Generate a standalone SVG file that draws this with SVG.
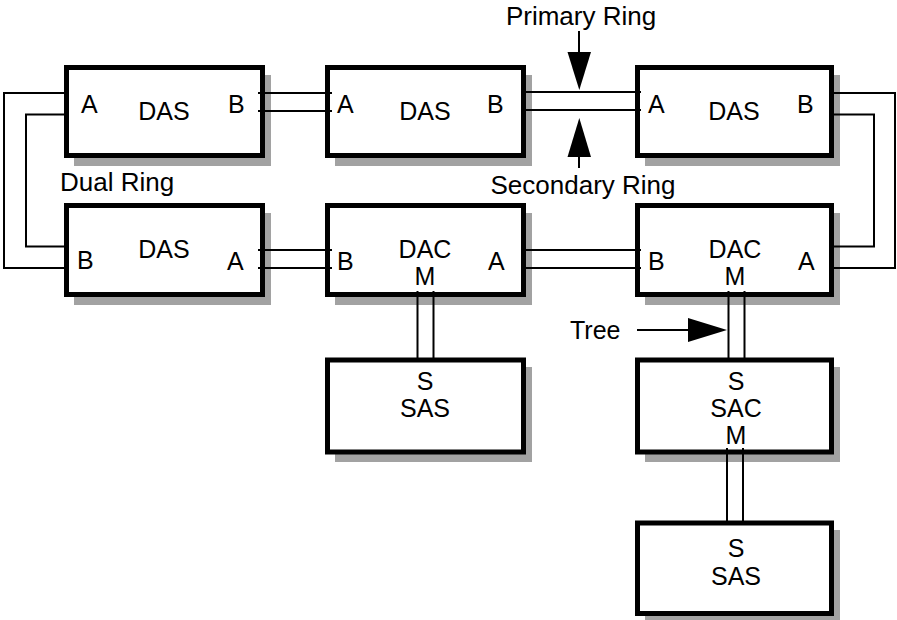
<svg xmlns="http://www.w3.org/2000/svg" width="897" height="620" viewBox="0 0 897 620">
<style>
.shadow{fill:#a2a2a2;stroke:none}
.box{fill:#fff;stroke:#000;stroke-width:5}
text{font-family:"Liberation Sans",Arial,Helvetica,sans-serif;font-size:25px;fill:#000}
.c{text-anchor:middle}
.lbl{font-size:26px}
.wire{fill:none;stroke:#000;stroke-width:2}
.arrow{fill:#000;stroke:none}
</style>
<rect width="897" height="620" fill="#fff"/>

<g id="das1">
<rect class="shadow" x="74" y="75" width="197" height="91"/>
<rect class="box" x="66.5" y="67.5" width="196" height="88"/>
<text x="81" y="113">A</text><text class="c" x="164" y="120">DAS</text><text x="228" y="113">B</text>
</g>
<g id="das2">
<rect class="shadow" x="335" y="75" width="197" height="91"/>
<rect class="box" x="327.5" y="67.5" width="196" height="88"/>
<text x="337" y="113">A</text><text class="c" x="425" y="120">DAS</text><text x="487" y="113">B</text>
</g>
<g id="das3">
<rect class="shadow" x="645" y="75" width="195" height="91"/>
<rect class="box" x="637.5" y="67.5" width="194" height="88"/>
<text x="648" y="113">A</text><text class="c" x="734" y="120">DAS</text><text x="797" y="113">B</text>
</g>
<g id="das4">
<rect class="shadow" x="74" y="213" width="197" height="92"/>
<rect class="box" x="66.5" y="205.5" width="196" height="89"/>
<text x="77" y="269">B</text><text class="c" x="164" y="258">DAS</text><text x="227" y="270">A</text>
</g>
<g id="dac1">
<rect class="shadow" x="335" y="213" width="197" height="92"/>
<rect class="box" x="327.5" y="205.5" width="196" height="89"/>
<text x="337" y="270">B</text><text class="c" x="425" y="258">DAC</text><text class="c" x="425" y="285">M</text><text x="488" y="270">A</text>
</g>
<g id="dac2">
<rect class="shadow" x="645" y="213" width="195" height="92"/>
<rect class="box" x="637.5" y="205.5" width="194" height="89"/>
<text x="648" y="270">B</text><text class="c" x="735" y="258">DAC</text><text class="c" x="735" y="285">M</text><text x="798" y="270">A</text>
</g>
<g id="sas1">
<rect class="shadow" x="335" y="367" width="197" height="95"/>
<rect class="box" x="327.5" y="360" width="196" height="92"/>
<text class="c" x="425" y="390">S</text><text class="c" x="425" y="417">SAS</text>
</g>
<g id="sac">
<rect class="shadow" x="645" y="367" width="195" height="95"/>
<rect class="box" x="637.5" y="360" width="194" height="92"/>
<text class="c" x="736" y="390">S</text><text class="c" x="736" y="417">SAC</text><text class="c" x="736" y="444">M</text>
</g>
<g id="sas2">
<rect class="shadow" x="645" y="530" width="195" height="94"/>
<rect class="box" x="637.5" y="523" width="194" height="90.5"/>
<text class="c" x="736" y="557">S</text><text class="c" x="736" y="585">SAS</text>
</g>

<g id="connectors">
<path class="wire" d="M64 93H4V268H64M64 114.5H26V246.5H64"/>
<path class="wire" d="M834 93H895V268H834M834 114.5H874V246.5H834"/>
<path class="wire" d="M258 93H332M258 111H332"/>
<path class="wire" d="M524 92H641M524 110H641"/>
<path class="wire" d="M258 250H332M258 268H332"/>
<path class="wire" d="M524 250H641M524 268H641"/>
<path class="wire" d="M417.5 291V360M433.5 291V360"/>
<path class="wire" d="M728.5 291V360M744.5 291V360"/>
<path class="wire" d="M727 448V523M743 448V523"/>
</g>

<g id="labels">
<text class="lbl c" x="581" y="25">Primary Ring</text>
<path class="wire" d="M579 31V55"/>
<polygon class="arrow" points="567.5,52 591,52 579.3,90"/>
<text class="lbl c" x="583" y="194">Secondary Ring</text>
<path class="wire" d="M579 154V168"/>
<polygon class="arrow" points="567.5,157 591,157 579.3,118"/>
<text class="lbl" x="60" y="191">Dual Ring</text>
<text x="570" y="339">Tree</text>
<path class="wire" d="M637 330H690"/>
<polygon class="arrow" points="688,318 688,342 727,330"/>
</g>
</svg>
